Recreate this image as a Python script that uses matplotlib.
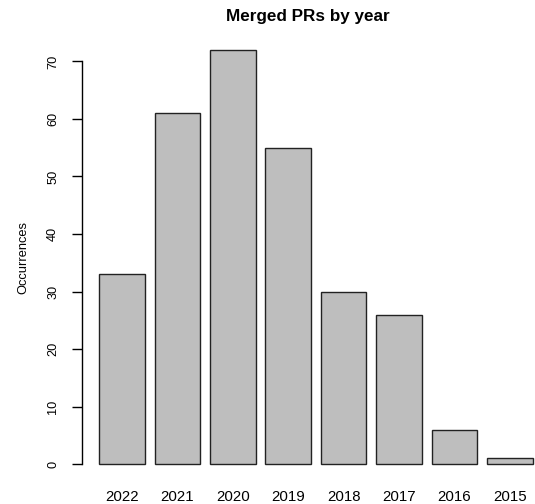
import matplotlib
matplotlib.use("Agg")
import matplotlib.pyplot as plt

years = ["2022", "2021", "2020", "2019", "2018", "2017", "2016", "2015"]
counts = [33, 61, 72, 55, 30, 26, 6, 1]

W, H = 535, 504
fig = plt.figure(figsize=(W / 100, H / 100), dpi=100)
plt.rcParams['font.family'] = ['Liberation Sans', 'DejaVu Sans']

# axes in pixel geometry
left_px, right_px = 82.3, 535
top_px, bottom_px = 33.4, 480.6
ax = fig.add_axes([left_px / W, 1 - bottom_px / H,
                   (right_px - left_px) / W, (bottom_px - top_px) / H])

x = list(range(len(years)))
ax.bar(x, counts, width=0.82, color="#BEBEBE", edgecolor="#222222", linewidth=1.0)

ax.set_xlim(-0.717, 7.455)
ax.set_ylim(-2.88, 74.88)

for s in ["top", "right", "bottom"]:
    ax.spines[s].set_visible(False)
ax.spines["left"].set_bounds(0, 70)
ax.spines["left"].set_linewidth(1.0)

ax.set_yticks(range(0, 71, 10))
ax.set_yticklabels([str(v) for v in range(0, 71, 10)], rotation=90, va="center",
                   fontsize=9.2)
ax.tick_params(axis="y", length=7.2, width=1.0, pad=9.5)

ax.set_xticks(x)
ax.set_xticklabels(years, fontsize=10.8)
ax.tick_params(axis="x", length=0, pad=7)

ax.set_ylabel("Occurrences", fontsize=9.3, labelpad=12.5)
fig.text(308 / W, 1 - 17 / H, "Merged PRs by year", ha="center", va="center",
         fontsize=12.3, fontweight="bold")

fig.savefig("out.png", dpi=100)
